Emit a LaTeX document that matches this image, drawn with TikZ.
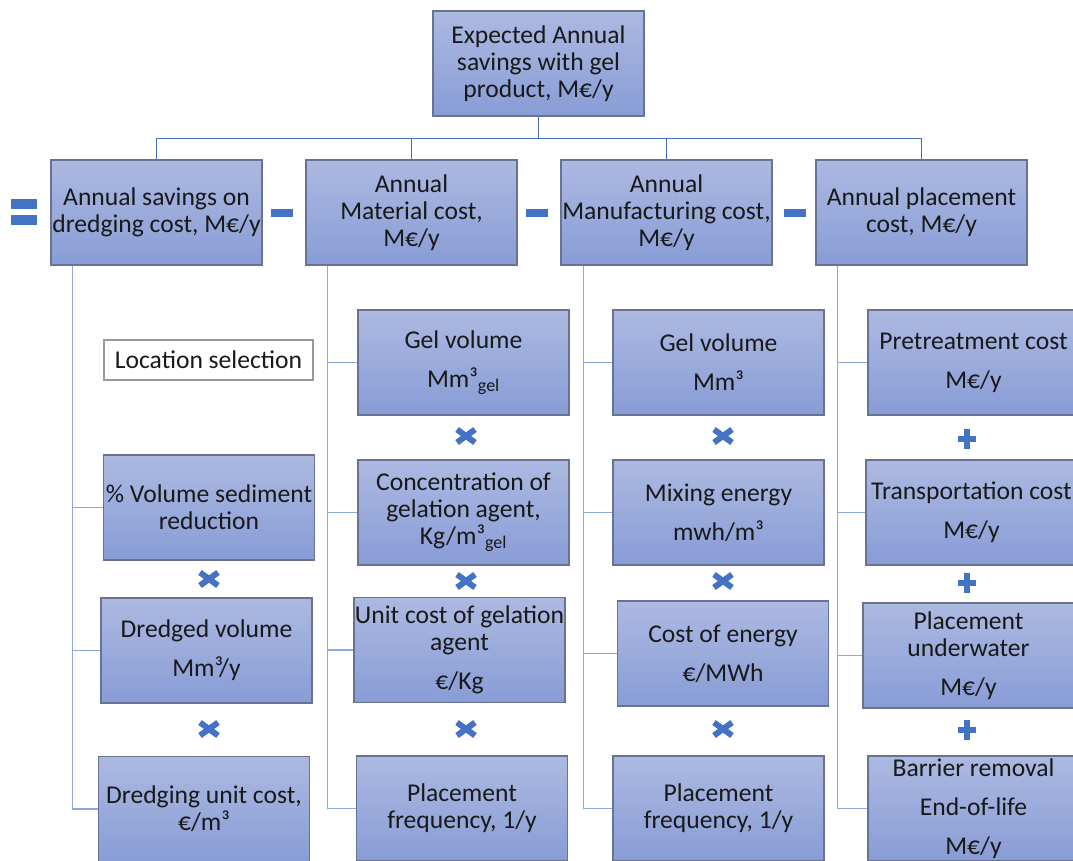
\documentclass[tikz,border=0pt]{standalone}
\usepackage{fontspec}
\setmainfont{Carlito}
\usetikzlibrary{calc}

\definecolor{boxtop}{RGB}{172,185,225}
\definecolor{boxbot}{RGB}{136,156,214}
\definecolor{boxline}{RGB}{105,115,145}
\definecolor{linedark}{RGB}{74,110,182}
\definecolor{linelight}{RGB}{140,168,220}
\definecolor{signcol}{RGB}{68,114,196}
\definecolor{textcol}{RGB}{25,25,25}

\begin{document}
\begin{tikzpicture}[x=0.75pt,y=-0.75pt,
  box/.style={draw=boxline,line width=1.1pt,top color=boxtop,bottom color=boxbot,
    minimum width=158.25pt,minimum height=78.75pt,inner sep=0pt,align=center,
    text=textcol,font=\fontsize{19.2}{20.25}\selectfont},
  note/.style={draw=black!40,line width=0.8pt,fill=white,minimum width=156.75pt,
    minimum height=30pt,inner sep=0pt,text=textcol,font=\fontsize{19.2}{20.25}\selectfont},
  wire/.style={draw=linedark,line width=1.1pt},
  branch/.style={draw=linelight,line width=1.1pt},
  sign/.style={draw=signcol,line width=4.5pt}]

\useasboundingbox (0,0) rectangle (1073,860);

% top level
\node[box](total) at (538.5,63.5) {Expected Annual\\savings with gel\\product, M€/y};
\node[box](dredge) at (156.5,212.5) {Annual savings on\\dredging cost, M€/y};
\node[box](material) at (411.5,212.5) {Annual\\Material cost,\\M€/y};
\node[box](manuf) at (666.5,212.5) {Annual\\Manufacturing cost,\\M€/y};
\node[box](place) at (921.5,212.5) {Annual placement\\cost, M€/y};

% dredging column
\node[note](loc) at (208.5,360) {Location selection};
\node[box](reduc) at (209,507.5) {\% Volume sediment\\reduction};
\node[box](dvol) at (206.5,650.5) {Dredged volume\\[9pt]Mm³/y};
\node[box](dcost) at (204,809) {Dredging unit cost,\\€/m³};

% material column
\node[box](gelA) at (463.5,362.5) {Gel volume\\[9pt]Mm³\textsubscript{gel}};
\node[box](conc) at (463.5,512.5) {Concentration of\\gelation agent,\\Kg/m³\textsubscript{gel}};
\node[box](agent) at (459.5,650) {Unit cost of gelation\\agent\\[9pt]€/Kg};
\node[box](freqA) at (462,808.5) {Placement\\frequency, 1/y};

% manufacturing column
\node[box](gelB) at (718.5,362.5) {Gel volume\\[9pt]Mm³};
\node[box](mix) at (718.5,512.5) {Mixing energy\\[9pt]mwh/m³};
\node[box](energy) at (723,653.5) {Cost of energy\\[9pt]€/MWh};
\node[box](freqB) at (718.5,808.5) {Placement\\frequency, 1/y};

% placement column
\node[box](pre) at (973.5,362.5) {Pretreatment cost\\[9pt]M€/y};
\node[box](trans) at (971.5,512.5) {Transportation cost\\[9pt]M€/y};
\node[box](under) at (968.5,655.5) {Placement\\underwater\\[9pt]M€/y};
\node[box](removal) at (973.5,808.5) {Barrier removal\\[9pt]End-of-life\\[9pt]M€/y};

% tree
\coordinate (bus) at ($(total.south)+(0,22)$);
\draw[wire] (total.south) -- (bus);
\draw[wire] (bus) -| (dredge.north);
\draw[wire] (bus) -| (material.north);
\draw[wire] (bus) -| (manuf.north);
\draw[wire] (bus) -| (place.north);

\coordinate (tA) at ($(dredge.south west)+(22,0)$);
\coordinate (tB) at ($(material.south west)+(22,0)$);
\coordinate (tC) at ($(manuf.south west)+(23,0)$);
\coordinate (tD) at ($(place.south west)+(22,0)$);

\draw[branch] (tA) |- (reduc.west);
\draw[branch] (tA) |- (dvol.west);
\draw[branch] (tA) |- (dcost.west);
\draw[branch] (tB) |- (gelA.west);
\draw[branch] (tB) |- (conc.west);
\draw[branch] (tB) |- (agent.west);
\draw[branch] (tB) |- (freqA.west);
\draw[branch] (tC) |- (gelB.west);
\draw[branch] (tC) |- (mix.west);
\draw[branch] (tC) |- (energy.west);
\draw[branch] (tC) |- (freqB.west);
\draw[branch] (tD) |- (pre.west);
\draw[branch] (tD) |- (trans.west);
\draw[branch] (tD) |- (under.west);
\draw[branch] (tD) |- (removal.west);

% operators
\fill[signcol] (11,199) rectangle (37,209);
\fill[signcol] (11,215) rectangle (37,225);
\foreach \x in {282,537,795}
  \fill[signcol] (\x-11,208.5) rectangle (\x+11,216.5);
\foreach \x/\y in {209/579,209/729,466/436,466/581,466/729,723/436,723/581,723/729}
{
  \draw[sign] (\x-9,\y-6.5) -- (\x+9,\y+6.5);
  \draw[sign] (\x-9,\y+6.5) -- (\x+9,\y-6.5);
}
\foreach \y in {439,583,730}
{
  \draw[sign] (958,\y) -- (976,\y);
  \draw[sign] (967,\y-10) -- (967,\y+10);
}
\end{tikzpicture}
\end{document}
